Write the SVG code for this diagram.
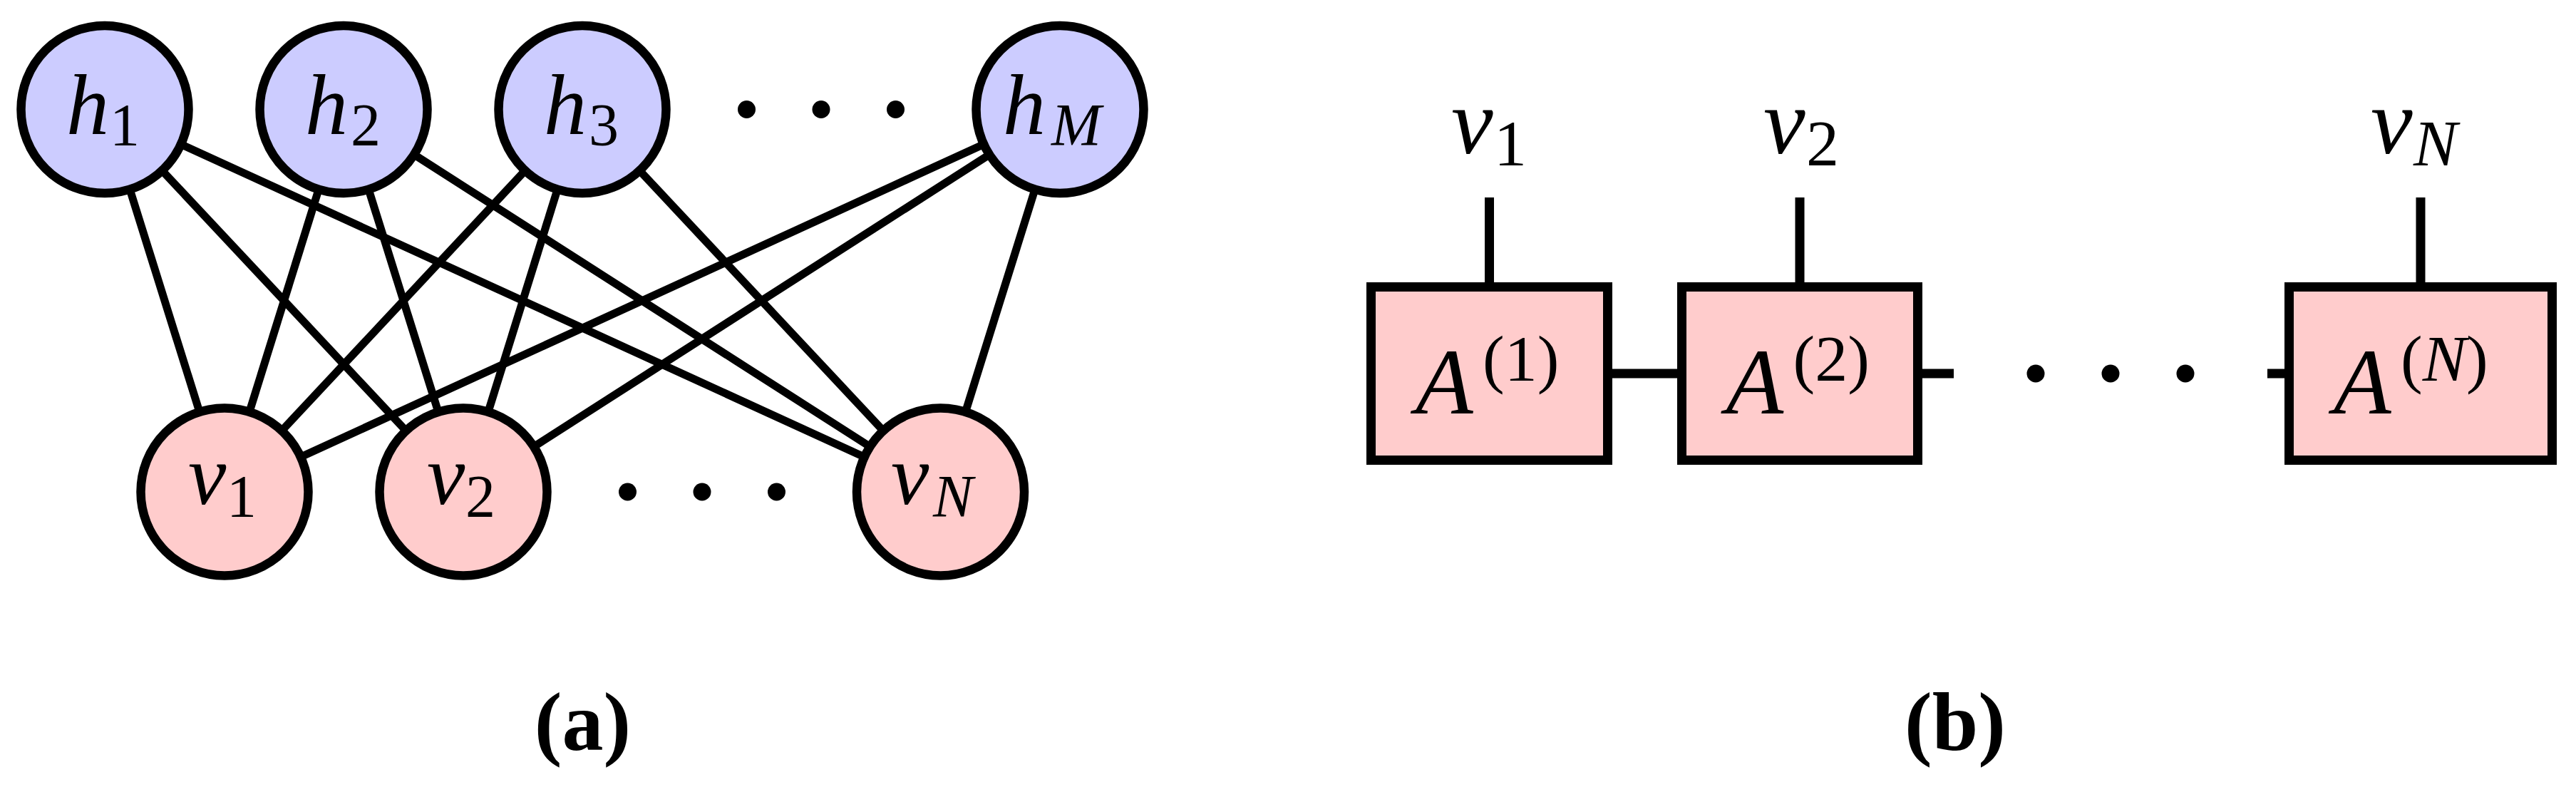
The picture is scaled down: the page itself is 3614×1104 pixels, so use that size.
<svg xmlns="http://www.w3.org/2000/svg" width="3614" height="1104" viewBox="0 0 3614 1104">
<style>
.edge{stroke:#000;stroke-width:11;fill:none}
.bar{stroke:#000;stroke-width:13;fill:none}
.hid{fill:#CCCCFF;stroke:#000;stroke-width:12.5}
.vis{fill:#FFCCCC;stroke:#000;stroke-width:12.5}
.box{fill:#FFCCCC;stroke:#000;stroke-width:13}
.dot{fill:#000}
.m{font-family:"Liberation Serif","Times New Roman",serif;font-style:italic;fill:#000}
.r{font-style:normal}
.cap{font-family:"Liberation Serif","Times New Roman",serif;font-weight:bold;font-size:116px;text-anchor:middle;fill:#000}
</style>
<rect width="3614" height="1104" fill="#fff"/>
<g id="connectors">
<line class="edge" x1="147" y1="153.5" x2="315" y2="690"/>
<line class="edge" x1="147" y1="153.5" x2="650" y2="690"/>
<line class="edge" x1="147" y1="153.5" x2="1319.5" y2="690"/>
<line class="edge" x1="482" y1="153.5" x2="315" y2="690"/>
<line class="edge" x1="482" y1="153.5" x2="650" y2="690"/>
<line class="edge" x1="482" y1="153.5" x2="1319.5" y2="690"/>
<line class="edge" x1="817" y1="153.5" x2="315" y2="690"/>
<line class="edge" x1="817" y1="153.5" x2="650" y2="690"/>
<line class="edge" x1="817" y1="153.5" x2="1319.5" y2="690"/>
<line class="edge" x1="1487" y1="153.5" x2="315" y2="690"/>
<line class="edge" x1="1487" y1="153.5" x2="650" y2="690"/>
<line class="edge" x1="1487" y1="153.5" x2="1319.5" y2="690"/>
<line class="bar" x1="2089.5" y1="277" x2="2089.5" y2="402.5"/>
<line class="bar" x1="2525" y1="277" x2="2525" y2="402.5"/>
<line class="bar" x1="3396" y1="277" x2="3396" y2="402.5"/>
<line class="bar" x1="2255.5" y1="524" x2="2359.5" y2="524"/>
<line class="bar" x1="2690.5" y1="524" x2="2741" y2="524"/>
<line class="bar" x1="3181" y1="524" x2="3211.5" y2="524"/>
</g>
<g id="h1"><circle class="hid" cx="147" cy="153.5" r="117.5"/><text class="m" font-size="120"><tspan x="93" y="187.5">h</tspan><tspan class="r" x="154" y="203.5" font-size="84">1</tspan></text></g>
<g id="h2"><circle class="hid" cx="482" cy="153.5" r="117.5"/><text class="m" font-size="120"><tspan x="428" y="187.5">h</tspan><tspan class="r" x="492" y="203.5" font-size="84">2</tspan></text></g>
<g id="h3"><circle class="hid" cx="817" cy="153.5" r="117.5"/><text class="m" font-size="120"><tspan x="763" y="187.5">h</tspan><tspan class="r" x="826" y="203.5" font-size="84">3</tspan></text></g>
<g id="hM"><circle class="hid" cx="1487" cy="153.5" r="117.5"/><text class="m" font-size="120"><tspan x="1407" y="187.5">h</tspan><tspan x="1475" y="203.5" font-size="84">M</tspan></text></g>
<g id="hdots"><circle class="dot" cx="1047.5" cy="153.5" r="12.5"/><circle class="dot" cx="1152" cy="153.5" r="12.5"/><circle class="dot" cx="1256.5" cy="153.5" r="12.5"/></g>
<g id="v1"><circle class="vis" cx="315" cy="690" r="117.5"/><text class="m" font-size="120"><tspan x="264" y="707">v</tspan><tspan class="r" x="318" y="725" font-size="84">1</tspan></text></g>
<g id="v2"><circle class="vis" cx="650" cy="690" r="117.5"/><text class="m" font-size="120"><tspan x="599" y="707">v</tspan><tspan class="r" x="653" y="725" font-size="84">2</tspan></text></g>
<g id="vN"><circle class="vis" cx="1319.5" cy="690" r="117.5"/><text class="m" font-size="120"><tspan x="1250" y="707">v</tspan><tspan x="1309" y="725" font-size="84">N</tspan></text></g>
<g id="vdots"><circle class="dot" cx="880.5" cy="690" r="12.5"/><circle class="dot" cx="985" cy="690" r="12.5"/><circle class="dot" cx="1089.5" cy="690" r="12.5"/></g>
<g id="A1"><rect class="box" x="1923.5" y="402.5" width="332" height="243"/><text class="m" font-size="132"><tspan x="1986" y="580">A</tspan><tspan class="r" x="2080" y="534" font-size="92">(1)</tspan></text></g>
<g id="A2"><rect class="box" x="2359.5" y="402.5" width="331" height="243"/><text class="m" font-size="132"><tspan x="2421.5" y="580">A</tspan><tspan class="r" x="2515.5" y="534" font-size="92">(2)</tspan></text></g>
<g id="AN"><rect class="box" x="3211.5" y="402.5" width="369" height="243"/><text class="m" font-size="132"><tspan x="3274" y="580">A</tspan><tspan class="r" x="3368" y="534" font-size="92">(</tspan><tspan font-size="92" y="534">N</tspan><tspan class="r" font-size="92" y="534">)</tspan></text></g>
<g id="bdots"><circle class="dot" cx="2856" cy="524" r="12.5"/><circle class="dot" cx="2961" cy="524" r="12.5"/><circle class="dot" cx="3066" cy="524" r="12.5"/></g>
<g id="labels-b">
<text class="m" font-size="132"><tspan x="2036" y="215">v</tspan><tspan class="r" x="2096" y="232" font-size="92">1</tspan></text>
<text class="m" font-size="132"><tspan x="2474" y="215">v</tspan><tspan class="r" x="2534" y="232" font-size="92">2</tspan></text>
<text class="m" font-size="132"><tspan x="3326" y="215">v</tspan><tspan x="3386" y="232" font-size="92">N</tspan></text>
</g>
<g id="captions">
<text class="cap" x="817.5" y="1052">(a)</text>
<text class="cap" x="2743" y="1052">(b)</text>
</g>
</svg>
